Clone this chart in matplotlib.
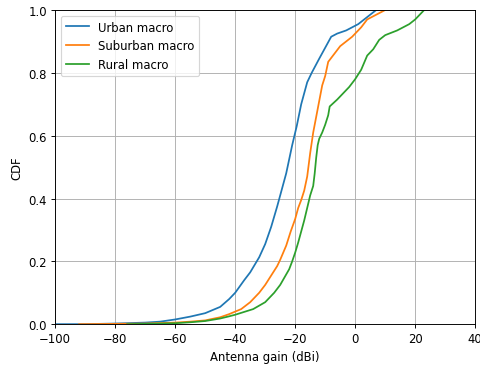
import numpy as np
import matplotlib
matplotlib.use('Agg')
import matplotlib.pyplot as plt

# pontos (ganho em dBi, CDF)
urban_x = [-100, -90, -80, -70, -65, -60, -55, -50, -45, -42, -40, -37, -35, -32, -30,
           -28, -26, -25, -23, -21, -19.5, -18, -16, -14.5, -12, -10, -8, -6, -3, -1,
           1, 3, 5, 7]
urban_y = [0.0, 0.0, 0.002, 0.005, 0.008, 0.015, 0.024, 0.035, 0.055, 0.08, 0.1, 0.14,
           0.165, 0.213, 0.255, 0.31, 0.375, 0.41, 0.48, 0.57, 0.63, 0.70, 0.77, 0.8,
           0.845, 0.88, 0.915, 0.925, 0.935, 0.945, 0.955, 0.97, 0.985, 1.0]

suburban_x = [-92, -80, -70, -60, -55, -50, -45, -42, -40, -38, -35, -32, -30, -28, -26,
              -25, -23, -21.5, -20, -19, -18, -17, -16, -15, -14, -13, -12, -11, -10,
              -9, -7, -5, -3, -1, 0, 2, 4, 6, 8, 10]
suburban_y = [0.0, 0.001, 0.002, 0.005, 0.008, 0.012, 0.022, 0.032, 0.04, 0.048, 0.07,
              0.1, 0.125, 0.155, 0.185, 0.205, 0.25, 0.295, 0.335, 0.37, 0.395, 0.425,
              0.47, 0.545, 0.61, 0.66, 0.71, 0.76, 0.79, 0.835, 0.86, 0.885, 0.9,
              0.915, 0.925, 0.945, 0.97, 0.98, 0.99, 1.0]

rural_x = [-76, -70, -60, -55, -50, -45, -42, -40, -34, -30, -27, -25, -22, -21, -20,
           -19, -18, -17, -16, -15, -14, -13.5, -13, -12.5, -12, -11, -10, -9, -8.5,
           -6, -4, -2, 0, 2, 4, 6, 8, 10, 14, 18, 20, 22, 23]
rural_y = [0.0, 0.001, 0.003, 0.006, 0.01, 0.018, 0.025, 0.03, 0.048, 0.07, 0.1, 0.125,
           0.175, 0.2, 0.228, 0.26, 0.295, 0.33, 0.37, 0.41, 0.44, 0.48, 0.53, 0.57,
           0.59, 0.61, 0.635, 0.665, 0.693, 0.715, 0.735, 0.755, 0.78, 0.81, 0.855,
           0.875, 0.905, 0.92, 0.935, 0.955, 0.97, 0.99, 1.0]

fig, ax = plt.subplots(figsize=(480 / 84, 367 / 84), dpi=84)
ax.plot(urban_x, urban_y, label='Urban macro')
ax.plot(suburban_x, suburban_y, label='Suburban macro')
ax.plot(rural_x, rural_y, label='Rural macro')
ax.set_xlim(-100, 40)
ax.set_ylim(0, 1)
ax.set_xlabel('Antenna gain (dBi)')
ax.set_ylabel('CDF')
ax.grid(True)
ax.legend(loc='upper left')
fig.subplots_adjust(left=0.115, right=0.99, bottom=0.114, top=0.97)
fig.savefig('out.png')
